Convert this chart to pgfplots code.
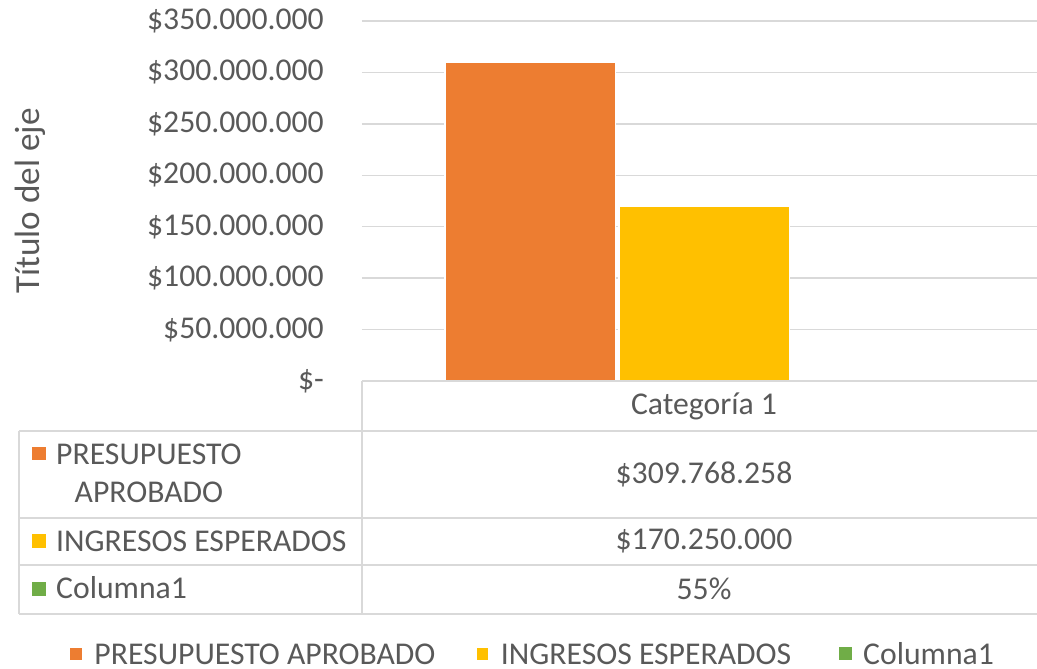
\documentclass[border=0pt]{standalone}
\usepackage{fontspec}
\setmainfont{Carlito}
\usepackage{pgfplots}
\pgfplotsset{compat=1.18}
\definecolor{cOr}{HTML}{ED7D31}
\definecolor{cYe}{HTML}{FFC000}
\definecolor{cGr}{HTML}{70AD47}
\definecolor{txt}{HTML}{595959}
\definecolor{grd}{HTML}{D9D9D9}
\newcommand\F{\fontsize{31.7pt}{38pt}\selectfont}
\newcommand\FT{\fontsize{35.2pt}{42pt}\selectfont}
\begin{document}
\begin{tikzpicture}[every node/.append style={font=\F, text=txt}]
\useasboundingbox (0pt,0pt) rectangle (1037pt,669pt);
\begin{axis}[
  at={(362pt,288pt)}, anchor=south west,
  scale only axis, width=675pt, height=360pt,
  xmin=-0.5, xmax=0.4868,
  ymin=0, ymax=350000000,
  ybar=3.5pt, bar width=170.5pt,
  axis line style={draw=none},
  major tick length=0pt,
  ymajorgrids, grid style={grd, line width=1.3pt},
  ytick={0,50000000,100000000,150000000,200000000,250000000,300000000,350000000},
  yticklabels={\$-,\$50.000.000,\$100.000.000,\$150.000.000,\$200.000.000,\$250.000.000,\$300.000.000,\$350.000.000},
  scaled y ticks=false,
  yticklabel style={anchor=east, inner sep=0pt, xshift=-38pt, font=\F, text=txt},
  xtick={0}, xticklabels={Categoría 1},
  xticklabel style={anchor=center, inner sep=0pt, yshift=-25.5pt, font=\F, text=txt},
  ylabel={Título del eje},
  ylabel style={at={(axis description cs:-0.492,0.5)}, anchor=center, font=\FT, text=txt, inner sep=0pt},
  legend columns=3,
  legend style={at={(axis description cs:0.2511,-0.758)}, anchor=center, draw=none, fill=none, font=\F, text=txt,
    nodes={inner sep=0pt, text depth=0pt},
    /tikz/every odd column/.append style={column sep=11pt},
    /tikz/column 2/.append style={column sep=40pt},
    /tikz/column 4/.append style={column sep=48pt}},
  legend image code/.code={\fill[#1] (0pt,-6.5pt) rectangle (13pt,6.5pt);},
]
\addplot[fill=cOr, draw=white, line width=1.5pt] coordinates {(0,309768258)};
\addplot[fill=cYe, draw=white, line width=1.5pt] coordinates {(0,170250000)};
\addplot[fill=cGr, draw=none] coordinates {(0,0.55)};
\legend{PRESUPUESTO APROBADO, INGRESOS ESPERADOS, Columna1}
\end{axis}
% data table grid
\draw[grd, line width=1.3pt] (362pt,288pt) -- (1037pt,288pt);
\draw[grd, line width=1.3pt] (362pt,288pt) -- (362pt,55pt);
\draw[grd, line width=1.3pt] (19pt,238pt) -- (1037pt,238pt);
\draw[grd, line width=1.3pt] (19pt,151pt) -- (1037pt,151pt);
\draw[grd, line width=1.3pt] (19pt,104pt) -- (1037pt,104pt);
\draw[grd, line width=1.3pt] (19pt,55pt) -- (1037pt,55pt);
\draw[grd, line width=1.3pt] (19pt,238pt) -- (19pt,55pt);
% row headers
\fill[cOr] (32pt,209pt) rectangle (46pt,222pt);
\fill[cYe] (32pt,121pt) rectangle (46pt,135pt);
\fill[cGr] (32pt,73pt) rectangle (46pt,87pt);
\node[anchor=west, align=center, inner sep=0pt] at (56pt,196pt) {PRESUPUESTO\\APROBADO};
\node[anchor=west, inner sep=0pt] at (56pt,128pt) {INGRESOS ESPERADOS};
\node[anchor=west, inner sep=0pt] at (56pt,81pt) {Columna1};
% values
\node[inner sep=0pt] at (704pt,195pt) {\$309.768.258};
\node[inner sep=0pt] at (704pt,128pt) {\$170.250.000};
\node[inner sep=0pt] at (704pt,80pt) {55\%};
\end{tikzpicture}
\end{document}
